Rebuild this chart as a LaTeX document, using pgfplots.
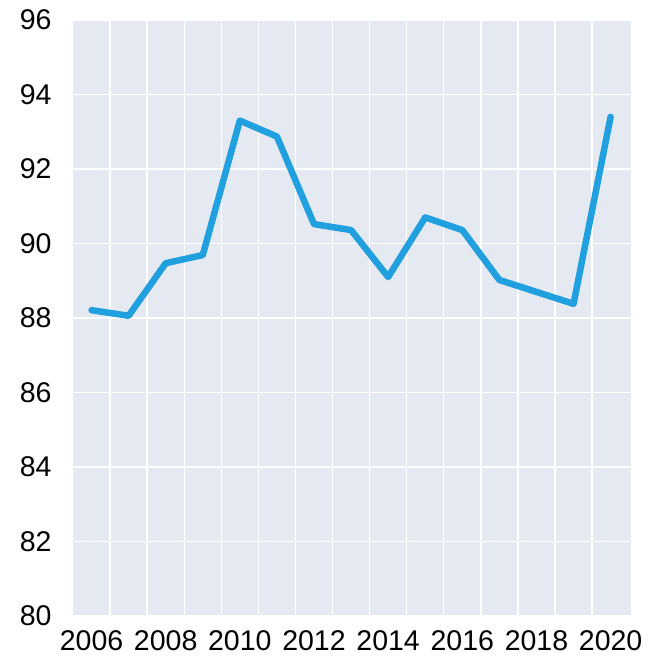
\documentclass[border=0pt]{standalone}
\usepackage{pgfplots}
\pgfplotsset{compat=1.18}
\usepackage{fontspec}
\setmainfont{Liberation Sans}
\definecolor{bgc}{RGB}{229,233,242}
\definecolor{linec}{RGB}{33,160,224}
\begin{document}
\begin{tikzpicture}
\begin{axis}[
  name=ax,
  scale only axis,
  width=558pt, height=596pt,
  xmin=2005.5, xmax=2020.55,
  ymin=80, ymax=96,
  axis background/.style={fill=bgc},
  axis line style={draw=none},
  xtick={2006,2008,...,2020},
  ytick={80,82,...,96},
  minor xtick={2006.5,2007.5,...,2019.5},
  major tick length=0pt, minor tick length=0pt,
  xmajorgrids=false, xminorgrids=true, ymajorgrids=true,
  minor grid style={draw=white, line width=1.4pt},
  major grid style={draw=white, line width=1.8pt},
  tick label style={font=\fontsize{28.5}{30}\selectfont, text=black},
  /pgf/number format/assume math mode=true,
  xticklabel={\pgfmathprintnumber[1000 sep={}]{\tick}},
  xticklabel style={yshift=-11pt},
  yticklabel style={xshift=-18pt},
  clip=false,
]
\addplot[color=linec, line width=6.5pt, line join=round, line cap=round] coordinates {
(2006,88.21) (2007,88.06) (2008,89.47) (2009,89.69) (2010,93.30)
(2011,92.87) (2012,90.52) (2013,90.36) (2014,89.10) (2015,90.70)
(2016,90.36) (2017,89.02) (2018,88.70) (2019,88.38) (2020,93.40)
};
\end{axis}
\pgfresetboundingbox
\path ([shift={(-73pt,-47pt)}]ax.south west) rectangle ([shift={(17pt,20pt)}]ax.north east);
\end{tikzpicture}
\end{document}
